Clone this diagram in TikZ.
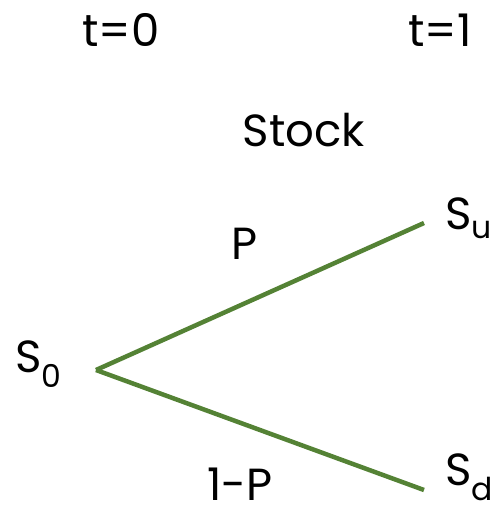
\documentclass[tikz,border=0pt]{standalone}
\usepackage{fontspec}
\setmainfont{Poppins}
\definecolor{branchc}{HTML}{548235}
\usetikzlibrary{positioning}
\tikzset{
  lbl/.style={font=\fontsize{45}{50}\selectfont,inner sep=0pt,text=black},
  branch/.style={draw=branchc,line width=4.5pt},
}
\newcommand{\sub}[2]{#1\textsubscript{#2}}

\begin{document}
\begin{tikzpicture}[x=1pt,y=-1pt]
  \useasboundingbox (0,0) rectangle (496,509);
  \node[lbl] (t0) at (121,30) {t=0};
  \node[lbl] (t1) at (440,30) {t=1};
  \node[lbl] (stock) at (304,130) {Stock};
  % tree
  \coordinate (n0) at (96,370);
  \coordinate (nu) at (424,223);
  \coordinate (nd) at (424,490);
  \node[lbl,anchor=west] (s0) at (15,364) {\sub{S}{0}};
  \node[lbl,anchor=west] (su) at (445,218) {\sub{S}{u}};
  \node[lbl,anchor=west] (sd) at (445,477) {\sub{S}{d}};
  \draw[branch] (n0) -- (nu);
  \draw[branch] (n0) -- (nd);
  \node[lbl] (pu) at (245,244) {P};
  \node[lbl] (pd) at (240,484) {1-P};
\end{tikzpicture}
\end{document}
